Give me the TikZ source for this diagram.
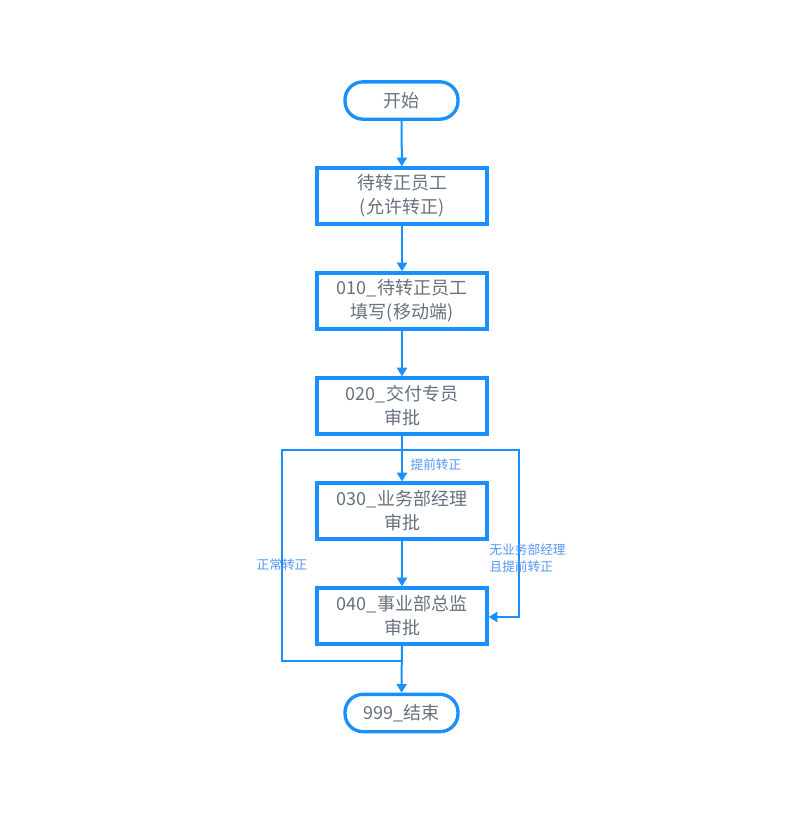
\documentclass[tikz,border=0pt]{standalone}
\usepackage{fontspec}
\setmainfont{Noto Sans CJK SC}
\usetikzlibrary{arrows.meta}
\definecolor{flow}{HTML}{1890FF}
\definecolor{txt}{HTML}{66717E}
\definecolor{lbl}{HTML}{5295F7}
\begin{document}
\begin{tikzpicture}[x=0.75pt,y=-0.75pt,
  proc/.style={draw=flow,line width=2.5pt,minimum width=127.5pt,minimum height=42pt,inner sep=0pt,align=center,text=txt,font=\fontsize{13.5}{18}\selectfont},
  term/.style={draw=flow,line width=2.5pt,rounded corners=13.5pt,minimum width=84.75pt,minimum height=28pt,inner sep=0pt,align=center,text=txt,font=\fontsize{13.5}{18}\selectfont},
  conn/.style={draw=flow,line width=1.5pt},
  arr/.style={conn,-{Triangle[length=6.5pt,width=7.5pt]}},
  lab/.style={text=lbl,font=\fontsize{9.5}{12.5}\selectfont,inner sep=1pt}]
\useasboundingbox (0,0) rectangle (794,819);
\node[term] (start) at (401.5,100.5) {开始};
\node[proc] (b1) at (402,196) {待转正员工\\(允许转正)};
\node[proc] (b2) at (402,301) {010\_待转正员工\\填写(移动端)};
\node[proc] (b3) at (402,406) {020\_交付专员\\审批};
\node[proc] (b4) at (402,511) {030\_业务部经理\\审批};
\node[proc] (b5) at (402,616) {040\_事业部总监\\审批};
\node[term] (end) at (401.5,713) {999\_结束};
\coordinate (br) at (402,450);
\coordinate (mg) at (402,661);
\coordinate (l1) at (282,450);
\coordinate (l2) at (282,661);
\coordinate (r1) at (519,450);
\coordinate (r2) at (519,617);
\draw[arr] (start) -- (b1);
\draw[arr] (b1) -- (b2);
\draw[arr] (b2) -- (b3);
\draw[arr] (b3) -- (b4);
\draw[arr] (b4) -- (b5);
\draw[arr] (b5) -- (end);
\draw[conn] (br) -- (l1) -- (l2) -- (mg);
\draw[arr] (br) -- (r1) -- (r2) -- (b5.east |- r2);
\node[lab,anchor=west] (t1) at (409,465) {提前转正};
\node[lab] (t2) at (282,565) {正常转正};
\node[lab,anchor=west,align=left] (t3) at (488,558) {无业务部经理\\且提前转正};
\end{tikzpicture}
\end{document}
